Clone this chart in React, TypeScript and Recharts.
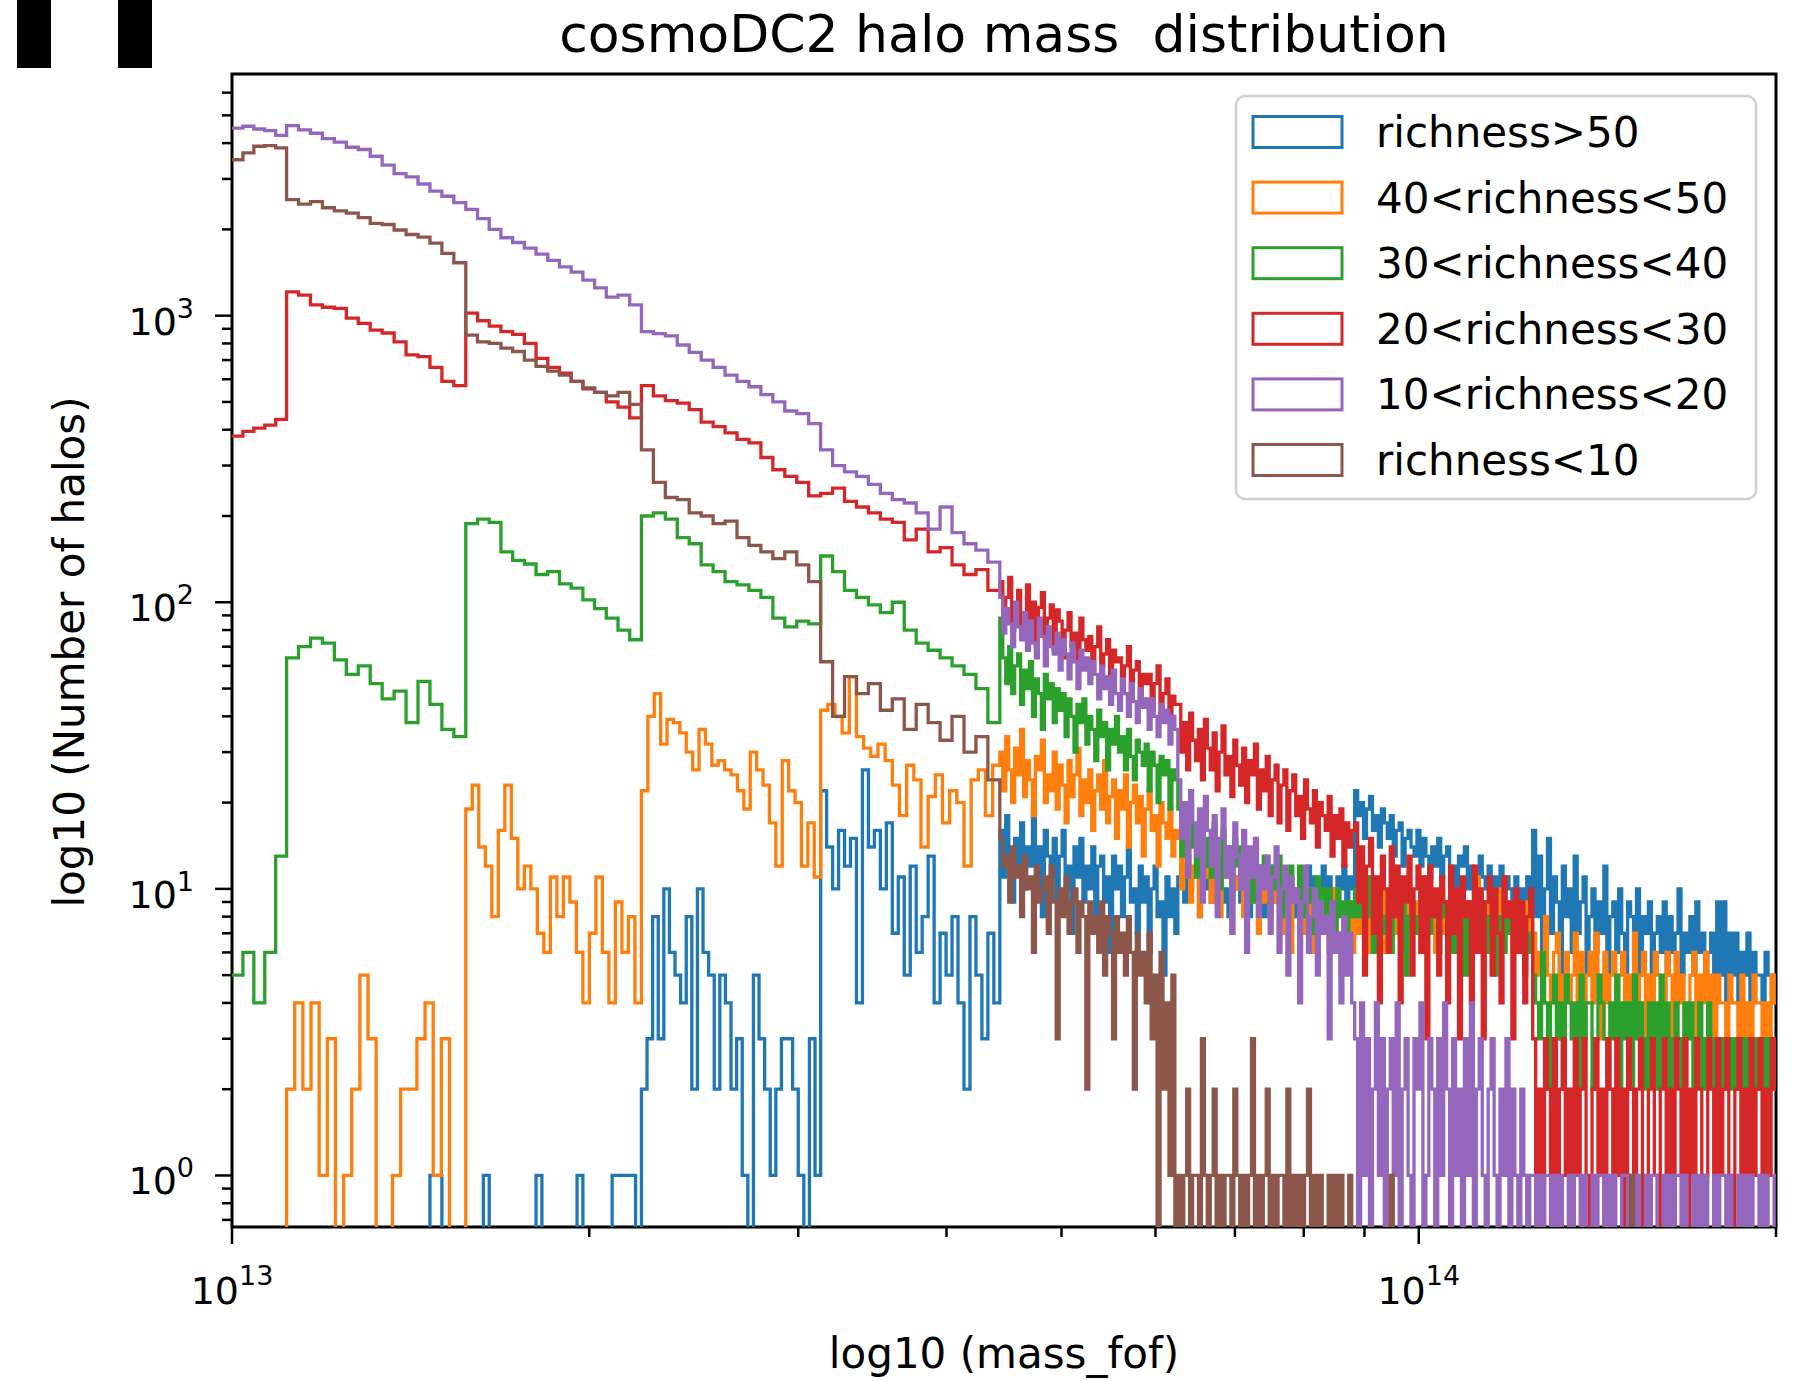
import { ComposedChart, Line, XAxis, YAxis, ReferenceArea } from "recharts";

// bin segment edges, log10(mass_fof); the richness cuts jump at every sqrt(2) in mass
const SEGMENT_EDGES = [13.0, 13.046, 13.197, 13.345, 13.496, 13.647, 13.797, 13.946, 14.096, 14.246, 14.302];

// counts per bin, one array per segment (bins split each segment evenly)
const RICH_GT50 = [
  [0, 0, 0, 0, 0],
  [0, 0, 0, 0, 0, 0, 0, 0, 0, 0, 0, 0, 1, 0, 0],
  [0, 0, 0, 1, 0, 0, 0, 0, 0, 0, 0, 0, 1, 0, 0, 0, 0, 0, 0, 1, 0, 0, 0, 0, 0, 1, 1, 1, 1, 0],
  [2, 3, 8, 3, 10, 6, 5, 4, 8, 2, 10, 6, 5, 2, 5, 4, 2, 3, 1, 0, 5, 3, 2, 1, 2, 3, 3, 2, 1, 0, 3, 1],
  [22, 14, 10, 16, 12, 15, 4, 26, 14, 16, 10, 17, 7, 11, 5, 12, 6, 8, 13, 4, 7, 5, 8, 4, 2, 8, 5, 3, 7, 4],
  [16, 11, 18, 13, 9, 15, 12, 17, 10, 14, 12, 19, 10, 14, 8, 16, 13, 11, 15, 9, 13, 16, 10, 12, 7, 14, 11, 15, 9, 12,
   10, 14, 8, 12, 13, 9, 11, 6, 13, 10, 12, 8, 11, 14, 9, 10, 7, 12, 9, 11, 6, 10, 12, 8, 9, 5, 11, 8, 10, 7],
  [11, 12, 9, 13, 10, 11, 12, 8, 11, 10, 13, 9, 10, 12, 11, 9, 10, 8, 12, 10, 11, 9, 10, 12, 8, 11, 10, 9, 11, 8,
   10, 12, 9, 10, 11, 8, 10, 9, 11, 10, 8, 10, 11, 9, 12, 10, 11, 9, 10, 12, 9, 11, 10, 8, 11, 10, 12, 9, 11, 10],
  [22, 18, 20, 15, 19, 21, 16, 18, 14, 19, 17, 15, 18, 13, 16, 17, 12, 15, 16, 14, 13, 16, 12, 15, 13, 11, 14, 12, 15, 11,
   13, 14, 11, 12, 10, 13, 12, 14, 10, 12, 11, 9, 13, 11, 10, 12, 9, 11, 10, 12, 8, 11, 10, 9, 11, 8, 10, 9, 11, 9],
  [16, 8, 13, 6, 10, 15, 7, 11, 9, 5, 12, 8, 10, 6, 13, 7, 9, 11, 5, 8, 10, 6, 9, 7, 12, 5, 8, 9, 6, 10,
   7, 5, 9, 8, 6, 10, 5, 8, 7, 9, 5, 7, 8, 6, 9, 5, 8, 6, 7, 10, 5, 7, 6, 8, 5, 9, 6, 7, 5, 6],
  [7, 4, 9, 5, 9, 4, 7, 5, 7, 4, 6, 5, 7, 4, 6, 5, 5, 4, 6, 5, 5, 4],
];

const RICH_40_50 = [
  [0, 0, 0, 0, 0],
  [2, 4, 2, 4, 1, 3, 0, 1, 2, 5, 3, 0, 0, 1, 2, 2, 3, 4, 1, 3, 0, 0],
  [19, 23, 14, 12, 8, 16, 23, 15, 10, 12, 10, 7, 6, 11, 8, 11, 9, 6, 4, 7, 11, 6, 4, 9, 6, 8, 4],
  [22, 40, 48, 32, 39, 38, 35, 30, 26, 36, 32, 27, 28, 26, 25, 22, 19, 30, 26, 23, 17, 12, 28, 22, 20, 12, 17, 11],
  [42, 44, 40, 35, 55, 34, 31, 29, 32, 28, 23, 18, 27, 24, 14, 21, 25, 17, 22, 20, 12, 24, 26, 18, 27],
  [30, 22, 34, 26, 20, 31, 25, 36, 21, 28, 24, 18, 29, 26, 33, 20, 25, 22, 30, 19, 27, 23, 17, 28, 21, 25, 31, 18, 24, 20,
   26, 16, 22, 25, 19, 28, 17, 21, 24, 15, 22, 19, 25, 14, 20, 23, 17, 21, 13, 19, 22, 16, 18, 12, 20, 17, 15, 19, 13, 16],
  [15, 10, 13, 16, 9, 12, 14, 8, 13, 11, 12, 9, 14, 10, 8, 13, 11, 12, 7, 11, 10, 12, 8, 11, 13, 9, 10, 7, 12, 9,
   11, 8, 10, 9, 12, 7, 10, 9, 6, 10, 9, 11, 7, 9, 8, 10, 6, 9, 8, 7, 9, 6, 8, 10, 7, 5, 8, 7, 9, 6],
  [9, 7, 10, 8, 11, 6, 9, 8, 7, 10, 6, 9, 8, 12, 7, 9, 6, 8, 10, 7, 9, 8, 6, 11, 8, 7, 9, 6, 8, 10,
   7, 8, 6, 9, 7, 10, 8, 6, 9, 7, 8, 11, 6, 8, 7, 9, 6, 8, 7, 10, 6, 8, 9, 6, 7, 8, 6, 9, 7, 8],
  [7, 5, 6, 4, 8, 5, 4, 6, 7, 3, 5, 6, 4, 5, 7, 4, 6, 3, 5, 6, 4, 7, 5, 3, 6, 4, 5, 6, 3, 5,
   6, 4, 5, 3, 7, 4, 5, 6, 3, 5, 4, 6, 5, 3, 4, 6, 5, 3, 6, 4, 5, 3, 4, 5, 6, 3, 5, 4, 6, 3],
  [5, 3, 5, 4, 4, 3, 5, 4, 4, 3, 5, 3, 4, 3, 5, 4, 4, 3, 4, 3, 5, 4],
];

const RICH_30_40 = [
  [5, 6, 4, 6, 13],
  [64, 70, 75, 72, 63, 56, 60, 52, 46, 49, 38, 53, 44, 36, 34],
  [188, 195, 190, 150, 140, 136, 125, 128, 116, 112, 102, 95, 88, 80, 74],
  [200, 205, 195, 168, 160, 135, 128, 118, 115, 110, 104, 88, 82, 86, 84],
  [145, 128, 110, 104, 98, 92, 100, 80, 72, 68, 64, 60, 56, 50, 38],
  [88, 64, 52, 70, 48, 60, 66, 44, 58, 50, 62, 40, 54, 48, 36, 56, 46, 52, 38, 50, 42, 48, 34, 46, 40, 30, 44, 38, 46, 32,
   40, 36, 28, 42, 34, 38, 26, 36, 32, 40, 30, 34, 26, 36, 29, 24, 33, 30, 27, 32, 22, 30, 27, 20, 29, 25, 28, 19, 26, 24],
  [19, 13, 17, 12, 20, 14, 11, 16, 18, 12, 15, 11, 17, 13, 10, 16, 12, 14, 9, 15, 12, 14, 10, 13, 11, 9, 14, 12, 10, 13,
   11, 9, 12, 10, 13, 8, 11, 10, 12, 9, 10, 12, 8, 11, 9, 10, 7, 11, 9, 10, 8, 10, 9, 7, 10, 8, 9, 6, 9, 8],
  [10, 8, 9, 7, 11, 8, 6, 9, 10, 7, 8, 9, 6, 10, 8, 7, 9, 5, 8, 9, 7, 8, 10, 6, 8, 7, 9, 8, 6, 8,
   9, 7, 8, 6, 9, 7, 8, 5, 9, 7, 8, 6, 7, 9, 6, 8, 7, 5, 8, 7, 6, 8, 7, 9, 6, 7, 8, 5, 7, 6],
  [5, 4, 3, 6, 4, 2, 4, 5, 3, 4, 2, 5, 4, 3, 4, 2, 5, 3, 4, 4, 2, 3, 5, 4, 3, 2, 4, 3, 5, 2,
   4, 3, 4, 2, 5, 3, 4, 3, 2, 4, 3, 4, 2, 5, 3, 4, 2, 3, 4, 3, 2, 4, 3, 4, 2, 3, 4, 2, 3, 4],
  [3, 2, 3, 2, 3, 2, 3, 2, 3, 2, 3, 2, 3, 2, 3, 2, 3, 2, 3, 2, 3, 2],
];

const RICH_20_30 = [
  [380, 395, 405, 415, 435],
  [1210, 1180, 1090, 1070, 1060, 980, 940, 890, 870, 810, 730, 720, 660, 590, 570],
  [1020, 960, 920, 880, 860, 800, 710, 660, 630, 590, 555, 540, 500, 480, 440],
  [570, 525, 505, 495, 470, 425, 410, 390, 370, 360, 320, 290, 275, 262, 235],
  [240, 250, 225, 215, 205, 195, 190, 165, 180, 150, 155, 135, 125, 130, 110],
  [118, 86, 104, 122, 80, 96, 110, 78, 92, 115, 84, 100, 70, 96, 108, 75, 88, 98, 68, 94, 86, 64, 80, 92, 70, 78, 62, 88, 74, 68,
   76, 58, 70, 82, 60, 66, 74, 54, 68, 62, 64, 50, 60, 70, 48, 58, 62, 45, 56, 52, 56, 42, 52, 60, 40, 48, 54, 38, 47, 44],
  [44, 30, 38, 26, 41, 33, 28, 36, 24, 39, 31, 26, 35, 22, 30, 37, 25, 29, 21, 33, 27, 23, 31, 20, 28, 25, 32, 19, 26, 22,
   29, 18, 24, 27, 17, 23, 26, 16, 22, 25, 18, 21, 15, 24, 19, 17, 22, 14, 20, 18, 16, 21, 13, 18, 15, 19, 12, 17, 14, 16],
  [17, 9, 14, 5, 12, 15, 7, 11, 4, 13, 10, 6, 14, 8, 12, 4, 11, 9, 13, 5, 10, 12, 6, 11, 3, 12, 8, 10, 5, 11,
   9, 4, 12, 7, 10, 3, 11, 8, 9, 4, 12, 6, 10, 3, 9, 11, 5, 10, 7, 4, 11, 8, 9, 3, 10, 6, 9, 4, 8, 10],
  [3, 1, 2, 0, 3, 2, 1, 3, 0, 2, 3, 1, 2, 0, 3, 1, 2, 3, 1, 0, 2, 3, 1, 2, 0, 3, 2, 1, 3, 1,
   2, 0, 3, 2, 1, 2, 3, 0, 1, 2, 3, 1, 0, 2, 3, 1, 2, 0, 3, 2, 1, 3, 0, 2, 1, 3, 2, 0, 1, 3],
  [2, 0, 3, 1, 2, 3, 1, 0, 2, 3, 1, 2, 0, 3, 1, 2, 3, 0, 2, 1, 3, 2],
];

const RICH_10_20 = [
  [4510, 4580, 4480, 4420, 4260],
  [4600, 4450, 4330, 4150, 4030, 3870, 3800, 3600, 3350, 3130, 3050, 2880, 2720, 2610, 2480],
  [2350, 2180, 2000, 1870, 1800, 1720, 1640, 1560, 1480, 1420, 1330, 1250, 1160, 1180, 1090],
  [880, 865, 850, 790, 745, 700, 660, 620, 590, 565, 530, 500, 465, 455, 420],
  [340, 300, 285, 275, 258, 240, 228, 222, 205, 180, 215, 175, 160, 152, 138],
  [104, 78, 95, 84, 70, 100, 82, 74, 92, 68, 86, 72, 64, 88, 76, 60, 82, 70, 66, 78, 58, 74, 66, 54, 72, 62, 50, 68, 58, 64,
   52, 62, 56, 46, 60, 50, 55, 44, 58, 48, 42, 54, 48, 40, 52, 45, 38, 50, 43, 46, 36, 46, 40, 34, 44, 38, 42, 32, 40, 36],
  [24, 15, 20, 11, 22, 17, 13, 19, 9, 21, 16, 12, 18, 8, 15, 19, 11, 14, 7, 17, 13, 10, 16, 6, 14, 11, 15, 8, 12, 10,
   13, 7, 11, 14, 6, 10, 12, 5, 11, 9, 10, 4, 9, 12, 6, 8, 10, 5, 9, 7, 8, 3, 9, 6, 7, 4, 8, 5, 7, 4],
  [3, 0, 4, 1, 3, 0, 2, 4, 1, 3, 0, 2, 3, 1, 4, 0, 2, 3, 1, 0, 3, 2, 4, 0, 1, 3, 2, 0, 3, 1,
   4, 2, 0, 3, 1, 2, 0, 3, 1, 4, 0, 2, 3, 1, 0, 2, 3, 1, 0, 2, 1, 3, 0, 2, 1, 0, 2, 1, 0, 1],
  [1, 0, 1, 0, 1, 1, 0, 1, 0, 1, 0, 0, 1, 0, 1, 1, 0, 1, 0, 0, 1, 0, 1, 1, 0, 1, 0, 1, 0, 0,
   1, 1, 0, 1, 0, 1, 0, 0, 1, 0, 1, 1, 0, 0, 1, 0, 1, 0, 1, 1, 0, 1, 0, 0, 1, 0, 1, 0, 1, 0],
  [0, 1, 0, 1, 1, 0, 1, 0, 0, 1, 0, 1, 0, 1, 0, 0, 1, 0, 1, 0, 0, 1],
];

const RICH_LT10 = [
  [3500, 3700, 3900, 3920, 3850],
  [2540, 2450, 2500, 2380, 2320, 2280, 2200, 2100, 2080, 1990, 1920, 1880, 1790, 1650, 1530],
  [855, 810, 800, 770, 750, 700, 665, 640, 620, 590, 560, 540, 525, 540, 490],
  [340, 262, 232, 228, 205, 200, 188, 192, 168, 158, 150, 142, 150, 135, 118],
  [62, 40, 55, 48, 52, 42, 46, 36, 44, 38, 33, 40, 30, 34, 24],
  [15, 12, 13, 9, 14, 11, 12, 8, 13, 10, 11, 6, 12, 9, 10, 11, 7, 12, 9, 3, 10, 8, 11, 7, 9, 10, 6, 9, 8, 2,
   9, 7, 8, 6, 9, 5, 8, 7, 3, 8, 6, 7, 5, 8, 6, 2, 7, 5, 6, 4, 7, 3, 5, 0, 6, 2, 4, 1, 5, 0],
  [1, 0, 1, 2, 0, 1, 1, 0, 3, 1, 0, 1, 2, 0, 1, 0, 1, 1, 0, 2, 1, 0, 1, 0, 1, 3, 0, 1, 0, 1,
   2, 0, 1, 0, 1, 1, 0, 2, 0, 1, 0, 1, 0, 1, 2, 0, 1, 0, 1, 0, 0, 1, 0, 1, 0, 1, 0, 0, 1, 0],
  [0, 0, 0, 0, 0, 0, 0, 0, 0, 0, 0, 0, 1, 0, 0, 0, 0, 0, 0, 0, 0, 0, 0, 0, 0, 0, 0, 0, 0, 0,
   0, 0, 0, 0, 0, 0, 0, 0, 0, 0, 0, 0, 0, 0, 0, 0, 0, 0, 0, 0, 0, 0, 0, 0, 0, 0, 0, 0, 0, 0],
  [0, 0, 0, 0, 0, 0, 0, 0, 0, 0, 0, 0, 0, 0, 0, 0, 0, 0, 0, 0, 0, 0, 0, 0, 0, 0, 0, 0, 0, 0,
   0, 0, 0, 1, 0, 0, 0, 0, 0, 0, 0, 0, 0, 0, 0, 0, 0, 0, 0, 0, 0, 0, 0, 0, 0, 0, 0, 0, 0, 0],
  [0, 0, 0, 0, 0, 0, 0, 0, 0, 0, 0, 0, 0, 0, 0, 0, 0, 0, 0, 0, 0, 0],
];

const SERIES = [
  { name: "richness>50", color: "#1f77b4", counts: RICH_GT50 },
  { name: "40<richness<50", color: "#ff7f0e", counts: RICH_40_50 },
  { name: "30<richness<40", color: "#2ca02c", counts: RICH_30_40 },
  { name: "20<richness<30", color: "#d62728", counts: RICH_20_30 },
  { name: "10<richness<20", color: "#9467bd", counts: RICH_10_20 },
  { name: "richness<10", color: "#8c564b", counts: RICH_LT10 },
];

const X_TICKS = [1e13, 2e13, 3e13, 4e13, 5e13, 6e13, 7e13, 8e13, 9e13, 1e14, 2e14];
const Y_TICKS = [
  0.7, 0.8, 0.9, 1, 2, 3, 4, 5, 6, 7, 8, 9, 10, 20, 30, 40, 50, 60, 70, 80, 90,
  100, 200, 300, 400, 500, 600, 700, 800, 900, 1000, 2000, 3000, 4000, 5000, 6000,
];

const X_DOMAIN = [1e13, 2e14];
const Y_DOMAIN = [0.661, 6970];
const ZERO_FLOOR = 0.1; // empty bins drop below the axis, like matplotlib's log clip

const FONT = "DejaVu Sans, Verdana, sans-serif";

function toSteps(segments: number[][]) {
  const pts: { x: number; y: number }[] = [];
  segments.forEach((vals, s) => {
    const lo = SEGMENT_EDGES[s];
    const hi = SEGMENT_EDGES[s + 1];
    vals.forEach((v, i) => {
      pts.push({ x: Math.pow(10, lo + ((hi - lo) * i) / vals.length), y: v > 0 ? v : ZERO_FLOOR });
    });
  });
  const last = pts[pts.length - 1];
  pts.push({ x: Math.pow(10, SEGMENT_EDGES[SEGMENT_EDGES.length - 1]), y: last.y });
  return pts;
}

function isMajor(v: number) {
  const e = Math.log10(v);
  return Math.abs(e - Math.round(e)) < 1e-6;
}

function XTick(props: any) {
  const { x, y, payload } = props;
  const major = isMajor(payload.value);
  return (
    <g>
      <line x1={x} x2={x} y1={y} y2={y + (major ? 17 : 10)} stroke="#000" strokeWidth={2.5} />
      {major && (
        <text x={x} y={y + 77} textAnchor="middle" fontFamily={FONT} fontSize={38} fill="#000">
          10
          <tspan dy={-19} fontSize={27}>
            {Math.round(Math.log10(payload.value))}
          </tspan>
        </text>
      )}
    </g>
  );
}

function YTick(props: any) {
  const { x, y, payload } = props;
  const major = isMajor(payload.value);
  return (
    <g>
      <line x1={x - (major ? 17 : 10)} x2={x} y1={y} y2={y} stroke="#000" strokeWidth={2.5} />
      {major && (
        <text x={x - 38} y={y + 19} textAnchor="end" fontFamily={FONT} fontSize={38} fill="#000">
          10
          <tspan dy={-17} fontSize={27}>
            {Math.round(Math.log10(payload.value))}
          </tspan>
        </text>
      )}
    </g>
  );
}

export default function App() {
  const lines = SERIES.map((s) => ({ ...s, points: toSteps(s.counts) }));

  return (
    <div style={{ position: "absolute", left: 0, top: 0, width: 1793, height: 1381, background: "#fff" }}>
      <ComposedChart width={1793} height={1381} margin={{ top: 74, right: 17, bottom: 54, left: 82 }}>
        <XAxis
          dataKey="x"
          type="number"
          scale="log"
          domain={X_DOMAIN}
          allowDataOverflow
          ticks={X_TICKS}
          interval={0}
          height={100}
          tickSize={0}
          tickMargin={0}
          axisLine={false}
          tickLine={false}
          tick={(p: any) => <XTick {...p} />}
        />
        <YAxis
          type="number"
          scale="log"
          domain={Y_DOMAIN}
          allowDataOverflow
          ticks={Y_TICKS}
          interval={0}
          width={150}
          tickSize={0}
          tickMargin={0}
          axisLine={false}
          tickLine={false}
          tick={(p: any) => <YTick {...p} />}
        />
        {lines.map((s) => (
          <Line
            key={s.name}
            data={s.points}
            dataKey="y"
            type="stepAfter"
            stroke={s.color}
            strokeWidth={3.3}
            dot={false}
            activeDot={false}
            isAnimationActive={false}
          />
        ))}
        <ReferenceArea
          x1={X_DOMAIN[0]}
          x2={X_DOMAIN[1]}
          y1={Y_DOMAIN[0]}
          y2={Y_DOMAIN[1]}
          fill="none"
          fillOpacity={0}
          stroke="#000"
          strokeWidth={3}
        />
      </ComposedChart>

      <svg
        width={1793}
        height={1381}
        style={{ position: "absolute", left: 0, top: 0, pointerEvents: "none" }}
      >
        <rect x={17} y={0} width={34} height={68} fill="#000" />
        <rect x={118} y={0} width={34} height={68} fill="#000" />

        <text x={1004} y={52} textAnchor="middle" fontFamily={FONT} fontSize={52} fill="#000" style={{ whiteSpace: "pre" }}>
          {"cosmoDC2 halo mass  distribution"}
        </text>
        <text x={1004} y={1368} textAnchor="middle" fontFamily={FONT} fontSize={42} fill="#000">
          log10 (mass_fof)
        </text>
        <text
          x={84}
          y={652}
          textAnchor="middle"
          fontFamily={FONT}
          fontSize={42}
          fill="#000"
          transform="rotate(-90 84 652)"
        >
          log10 (Number of halos)
        </text>

        <rect x={1236} y={96} width={520} height={403} rx={9} fill="#fff" fillOpacity={0.8} stroke="#d0d0d0" strokeWidth={2.5} />
        {SERIES.map((s, i) => {
          const cy = 132 + i * 65.6;
          return (
            <g key={s.name}>
              <rect x={1253} y={cy - 15.5} width={89} height={31} fill="none" stroke={s.color} strokeWidth={3} />
              <text x={1376} y={cy + 15} fontFamily={FONT} fontSize={42} fill="#000">
                {s.name}
              </text>
            </g>
          );
        })}
      </svg>
    </div>
  );
}
